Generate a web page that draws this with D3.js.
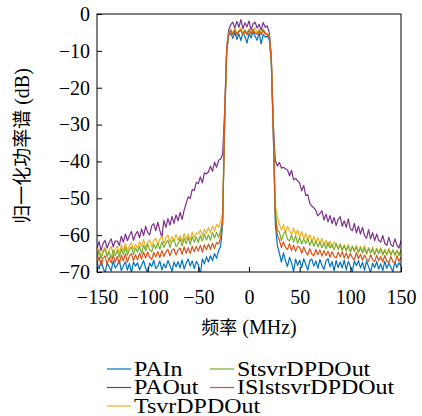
<!DOCTYPE html>
<html>
<head>
<meta charset="utf-8">
<script src="https://cdn.jsdelivr.net/npm/d3@7"></script>
<style>
  body { margin: 0; background: #fff; }
  text { font-family: "Liberation Serif", serif; fill: #000; }
  .cjk { font-family: "Noto Sans CJK SC", sans-serif; }
</style>
</head>
<body>
<div id="chart"></div>
<script>
// Frequency grid (MHz), 2 MHz steps
const freqs = d3.range(-150, 151, 2);

// Normalised PSD values (dB)
const paIn = [
  -67.4, -69.2, -66.9, -68.8, -70.3, -67.5, -68.6, -69.7, -67.0, -68.9,
  -68.1, -66.8, -69.6, -68.3, -67.2, -69.5, -67.7, -70.1, -67.3, -68.4,
  -67.5, -69.4, -68.2, -66.9, -69.0, -70.2, -67.6, -68.5, -66.8, -69.1,
  -68.4, -67.0, -69.5, -67.8, -68.9, -66.9, -68.2, -69.8, -67.3, -68.6,
  -67.2, -68.9, -66.7, -69.2, -67.6, -66.5, -68.4, -67.0, -69.1, -67.1,
  -68.0, -70.6, -66.4, -67.8, -65.9, -67.3, -65.6, -66.9, -65.0, -66.3,
  -64.2, -63.0, -57.0, -29.0, -10.5, -5.8, -5.2, -6.6, -5.0, -6.9,
  -5.4, -7.2, -5.0, -6.1, -7.9, -5.3, -6.5, -4.9, -6.0, -7.1,
  -5.2, -8.1, -5.5, -6.3, -6.0, -7.0, -13.0, -33.0, -57.0, -62.8,
  -64.9, -67.3, -64.8, -66.9, -68.5, -66.0, -67.6, -69.8, -66.5, -68.2,
  -66.8, -68.9, -66.4, -67.9, -69.5, -66.9, -66.5, -68.4, -67.0, -69.0,
  -66.6, -68.2, -69.3, -67.0, -66.4, -68.6, -67.2, -69.7, -66.9, -68.8,
  -67.3, -68.9, -66.7, -69.4, -67.1, -68.5, -69.8, -67.0, -68.3, -66.9,
  -68.9, -67.4, -69.5, -67.0, -68.6, -70.1, -67.6, -68.8, -67.2, -69.2,
  -67.8, -69.6, -67.1, -69.0, -67.6, -68.7, -69.9, -67.3, -68.8, -67.5,
  -68.4
];

const paOut = [
  -63.6, -61.7, -64.2, -62.3, -61.4, -63.5, -62.0, -61.0, -63.2, -61.6,
  -61.6, -62.8, -60.3, -61.9, -59.7, -61.5, -60.1, -59.0, -61.4, -59.8,
  -59.0, -60.7, -58.3, -60.1, -57.6, -59.3, -59.9, -57.5, -56.9, -58.8,
  -56.5, -58.7, -60.6, -56.0, -57.9, -55.5, -57.3, -54.9, -56.8, -54.5,
  -56.1, -53.8, -55.7, -53.2, -51.4, -49.6, -50.1, -47.6, -47.9, -45.7,
  -46.0, -44.2, -45.8, -43.1, -43.4, -42.8, -41.3, -42.7, -40.2, -41.6,
  -39.7, -39.4, -38.0, -26.0, -9.0, -4.3, -2.9, -2.2, -3.9, -2.0,
  -3.6, -1.5, -4.0, -2.4, -3.5, -1.9, -4.3, -2.7, -2.2, -3.8,
  -2.8, -4.4, -2.3, -3.6, -3.2, -5.0, -11.0, -30.0, -39.8, -41.2,
  -40.3, -41.8, -41.6, -42.0, -42.3, -43.9, -42.4, -45.0, -44.6, -45.3,
  -45.8, -48.0, -46.5, -49.3, -49.0, -51.4, -52.1, -52.6, -53.3, -54.8,
  -54.1, -53.4, -55.9, -54.3, -56.4, -54.7, -56.9, -55.2, -57.4, -55.7,
  -55.0, -57.6, -56.1, -57.9, -55.6, -58.3, -58.8, -56.8, -59.4, -57.6,
  -59.7, -57.9, -60.1, -60.8, -58.5, -61.0, -59.3, -61.5, -59.7, -61.4,
  -61.9, -60.1, -62.2, -62.8, -60.6, -62.5, -63.1, -61.0, -62.7, -63.5,
  -61.5
];

const tsvrDPDOut = [
  -65.6, -63.7, -66.0, -64.2, -63.3, -65.5, -64.0, -63.1, -65.2, -63.8,
  -63.0, -64.9, -62.6, -64.2, -62.2, -64.4, -62.9, -62.0, -63.9, -62.5,
  -63.6, -61.7, -63.1, -61.2, -63.4, -62.0, -61.3, -63.2, -61.5, -60.8,
  -62.6, -61.1, -60.3, -62.3, -60.7, -60.0, -62.0, -60.4, -61.7, -59.8,
  -61.4, -60.1, -61.8, -59.5, -61.1, -59.7, -61.3, -59.2, -60.7, -59.4,
  -59.7, -58.6, -60.2, -58.4, -59.6, -57.9, -59.4, -57.5, -58.9, -57.1,
  -57.8, -56.2, -54.0, -28.8, -9.9, -5.4, -4.1, -5.2, -3.9, -5.5,
  -4.5, -3.8, -5.4, -4.3, -5.1, -4.0, -5.6, -4.4, -3.7, -5.3,
  -4.3, -5.4, -4.0, -5.1, -5.3, -6.0, -12.0, -31.0, -52.0, -55.2,
  -57.0, -58.6, -57.2, -59.3, -57.6, -58.9, -59.7, -58.0, -60.0, -58.6,
  -60.5, -59.0, -61.0, -59.5, -61.4, -59.9, -61.8, -60.3, -62.1, -60.7,
  -62.4, -60.9, -62.8, -61.4, -63.1, -61.6, -63.4, -61.9, -62.4, -63.8,
  -62.3, -64.0, -62.6, -64.2, -62.5, -64.5, -62.9, -64.3, -62.7, -64.7,
  -63.1, -64.4, -62.8, -65.0, -63.4, -64.8, -63.2, -65.3, -63.6, -64.9,
  -63.4, -65.1, -63.8, -65.5, -63.6, -65.2, -64.0, -65.7, -64.2, -65.3,
  -63.9
];

const stsvrDPDOut = [
  -66.2, -64.2, -66.5, -64.6, -63.8, -65.9, -64.5, -66.3, -64.0, -65.6,
  -64.1, -66.0, -63.7, -65.3, -63.3, -65.4, -63.9, -63.2, -65.2, -63.5,
  -64.6, -63.0, -65.0, -62.7, -64.3, -62.4, -64.0, -64.5, -62.5, -63.7,
  -62.2, -63.9, -61.8, -63.4, -62.1, -61.4, -63.3, -61.7, -61.2, -63.1,
  -62.4, -61.0, -63.0, -60.8, -62.3, -60.6, -62.5, -60.4, -61.9, -60.5,
  -62.0, -60.1, -61.6, -59.7, -61.3, -59.9, -61.4, -59.3, -60.8, -59.2,
  -60.6, -58.6, -55.5, -28.5, -9.8, -5.2, -4.4, -5.5, -4.2, -5.4,
  -4.6, -4.2, -5.5, -4.4, -5.4, -4.3, -5.2, -4.1, -5.1, -5.4,
  -4.4, -5.5, -4.2, -5.2, -5.4, -6.1, -12.2, -31.5, -53.5, -58.6,
  -59.2, -61.5, -59.6, -59.0, -61.1, -61.6, -59.9, -61.9, -60.2, -62.2,
  -60.6, -62.4, -61.0, -62.3, -60.8, -62.8, -61.3, -63.0, -61.5, -63.2,
  -61.8, -63.4, -62.1, -63.7, -62.0, -63.5, -62.5, -64.0, -62.3, -63.8,
  -62.6, -64.2, -62.8, -64.3, -62.9, -64.6, -63.1, -64.4, -63.2, -64.7,
  -63.3, -64.9, -63.5, -65.1, -63.6, -64.8, -63.8, -65.3, -63.7, -65.0,
  -63.8, -65.4, -64.1, -65.2, -63.9, -65.5, -64.0, -65.3, -64.2, -65.6,
  -64.0
];

const islstsvrDPDOut = [
  -67.9, -65.9, -68.3, -66.3, -65.6, -68.0, -66.0, -67.6, -65.5, -67.3,
  -65.8, -67.8, -65.4, -67.0, -65.1, -67.3, -65.6, -65.0, -66.9, -65.3,
  -66.7, -64.9, -66.5, -64.6, -66.2, -64.5, -66.0, -66.6, -64.7, -65.9,
  -64.4, -66.1, -64.2, -65.8, -64.5, -63.9, -65.6, -64.1, -63.7, -65.4,
  -64.0, -63.5, -65.2, -63.2, -64.9, -63.4, -65.0, -63.0, -64.5, -63.1,
  -64.3, -62.7, -64.6, -62.6, -64.0, -62.4, -63.9, -62.2, -63.6, -62.0,
  -62.4, -60.6, -56.0, -27.5, -9.5, -5.3, -4.6, -5.6, -4.5, -5.7,
  -4.8, -4.4, -5.6, -4.6, -5.7, -4.5, -5.4, -4.3, -5.3, -5.5,
  -4.6, -5.6, -4.5, -5.4, -5.6, -6.3, -12.5, -32.0, -55.0, -60.0,
  -61.4, -63.4, -61.8, -63.3, -63.9, -62.3, -64.2, -62.7, -64.4, -63.0,
  -63.3, -64.9, -63.2, -64.6, -65.4, -63.7, -65.1, -65.6, -63.9, -65.3,
  -64.0, -65.7, -64.2, -65.5, -64.4, -66.0, -64.5, -65.8, -66.2, -64.6,
  -65.9, -64.5, -66.2, -64.8, -66.4, -65.0, -66.1, -66.7, -64.7, -66.4,
  -65.2, -66.8, -65.4, -66.5, -67.1, -65.3, -66.7, -67.2, -65.5, -66.9,
  -65.8, -67.3, -65.5, -67.0, -67.5, -65.8, -67.2, -67.7, -65.6, -67.1,
  -66.0
];

const seriesNames = ['PAIn', 'PAOut', 'TsvrDPDOut', 'StsvrDPDOut', 'ISlstsvrDPDOut'];
const seriesValues = [paIn, paOut, tsvrDPDOut, stsvrDPDOut, islstsvrDPDOut];
const seriesColors = ['#0072BD', '#7E2F8E', '#EDB120', '#77AC30', '#D95319'];

const xTicks = [-150, -100, -50, 0, 50, 100, 150];
const yTicks = [0, -10, -20, -30, -40, -50, -60, -70];

const W = 422, H = 416;
const margin = { top: 14, right: 21, bottom: 144, left: 97 };
const width = W - margin.left - margin.right;
const height = H - margin.top - margin.bottom;

const svg = d3.select('#chart')
    .append('svg')
    .attr('width', W)
    .attr('height', H);

const g = svg.append('g')
    .attr('transform', `translate(${margin.left},${margin.top})`);

const xScale = d3.scaleLinear().domain([-150, 150]).range([0, width]);
const yScale = d3.scaleLinear().domain([-70, 0]).range([height, 0]);

// Clip the noisy lines to the axes box
g.append('clipPath')
    .attr('id', 'plot-clip')
    .append('rect')
    .attr('width', width)
    .attr('height', height);

const line = d3.line()
    .x((d, i) => xScale(freqs[i]))
    .y(d => yScale(d));

g.append('g')
    .attr('clip-path', 'url(#plot-clip)')
    .selectAll('path')
    .data(seriesValues)
    .enter()
    .append('path')
    .attr('d', d => line(d))
    .attr('fill', 'none')
    .attr('stroke', (d, i) => seriesColors[i])
    .attr('stroke-width', 1.2)
    .attr('stroke-linejoin', 'round');

// Axes: inward ticks on bottom and left only
const xAxis = g.append('g')
    .attr('transform', `translate(0,${height})`)
    .call(d3.axisBottom(xScale).tickValues(xTicks).tickSizeInner(-5).tickSizeOuter(0).tickPadding(18));
const yAxis = g.append('g')
    .call(d3.axisLeft(yScale).tickValues(yTicks).tickSizeInner(-5).tickSizeOuter(0).tickPadding(7));

[xAxis, yAxis].forEach(a => {
    a.select('.domain').remove();
    a.selectAll('line').attr('stroke', '#000');
    a.selectAll('text')
        .style('font-family', '"Liberation Serif", serif')
        .style('font-size', '20px')
        .attr('fill', '#000');
});

// Box
g.append('rect')
    .attr('width', width)
    .attr('height', height)
    .attr('fill', 'none')
    .attr('stroke', '#000')
    .attr('stroke-width', 1);

// Axis titles
svg.append('text')
    .attr('x', margin.left + width / 2)
    .attr('y', 334)
    .attr('text-anchor', 'middle')
    .style('font-size', '20px')
    .html('<tspan class="cjk" style="font-size:18px">频率</tspan> (MHz)');

svg.append('text')
    .attr('transform', `translate(29,${margin.top + height / 2 + 3}) rotate(-90)`)
    .attr('text-anchor', 'middle')
    .style('font-size', '20px')
    .html('<tspan class="cjk" style="font-size:19px">归一化功率谱</tspan> (dB)');

// Legend (two columns, filled down)
const legendPos = [
    [107, 369], [107, 387.5], [107, 406],
    [210, 369], [210, 387.5]
];
const legend = svg.append('g');
seriesNames.forEach((name, k) => {
    const [lx, ly] = legendPos[k];
    legend.append('line')
        .attr('x1', lx).attr('x2', lx + 24)
        .attr('y1', ly).attr('y2', ly)
        .attr('stroke', seriesColors[k])
        .attr('stroke-width', 1.2);
    legend.append('text')
        .attr('transform', `translate(${lx + 27},${ly + 6.5}) scale(1.2,1)`)
        .style('font-size', '20px')
        .text(name);
});
</script>
</body>
</html>
